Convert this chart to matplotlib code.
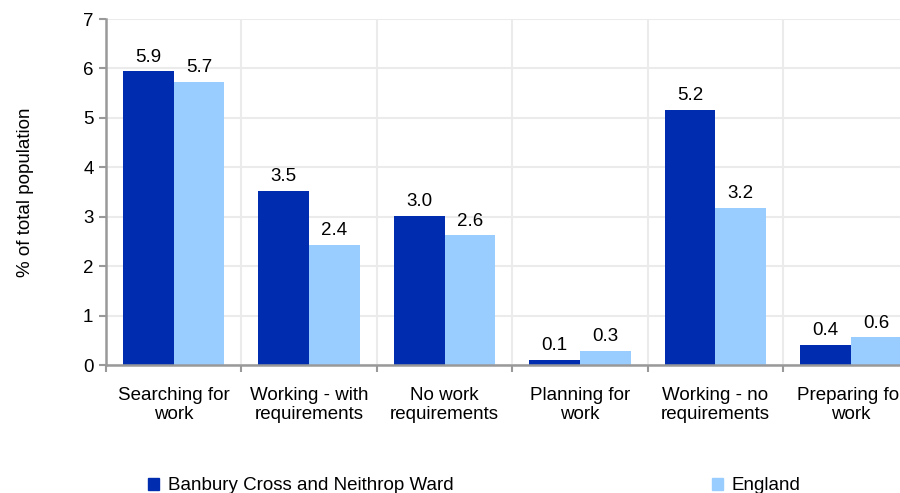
import matplotlib.pyplot as plt
from matplotlib.patches import Patch
import numpy as np

plt.rcParams["font.family"] = ["Liberation Sans", "DejaVu Sans"]

categories = ["Searching for\nwork", "Working - with\nrequirements", "No work\nrequirements",
              "Planning for\nwork", "Working - no\nrequirements", "Preparing for\nwork"]
banbury = [5.94, 3.52, 3.02, 0.11, 5.16, 0.41]
england = [5.73, 2.43, 2.62, 0.29, 3.18, 0.56]
series_names = ["Banbury Cross and Neithrop Ward", "England"]

dark = "#002db0"
light = "#99ccff"
fs = 13.5

fig = plt.figure(figsize=(9, 4.93), dpi=100)
ax = fig.add_axes([106 / 900, 128 / 493, 6 * 135.4 / 900, 346 / 493])

x = np.arange(len(categories)) + 0.5
w = 0.375
b1 = ax.bar(x - w / 2, banbury, w, color=dark, zorder=2)
b2 = ax.bar(x + w / 2, england, w, color=light, zorder=2)
ax.bar_label(b1, labels=[f"{v:.1f}" for v in banbury], padding=4, fontsize=fs)
ax.bar_label(b2, labels=[f"{v:.1f}" for v in england], padding=4, fontsize=fs)

ax.set_xlim(0, len(categories))
ax.set_ylim(0, 7)
ax.set_yticks(range(8))
ax.set_xticks(range(len(categories) + 1))
ax.set_xticklabels([])
ax.set_xticks(x, minor=True)
ax.set_xticklabels(categories, minor=True, fontsize=fs, linespacing=1.12)
ax.tick_params(axis="x", which="minor", length=0, pad=16)
ax.tick_params(axis="x", which="major", length=5, width=1.5, color="#999999")
ax.tick_params(axis="y", length=5, width=1.5, color="#999999", labelsize=fs, pad=4)

ax.grid(True, color="#ebebeb", linewidth=1.5, zorder=0)
ax.set_axisbelow(True)
for s in ["top", "right"]:
    ax.spines[s].set_visible(False)
for s in ["left", "bottom"]:
    ax.spines[s].set_color("#999999")
    ax.spines[s].set_linewidth(1.8)

ax.set_ylabel("% of total population", fontsize=fs, labelpad=35)

hx = [148 / 900, 712 / 900]
for name, col, xpos in zip(series_names, [dark, light], hx):
    fig.legend(handles=[Patch(color=col)], labels=[name], loc="center left",
               bbox_to_anchor=(xpos, 1 - 486 / 493), frameon=False, fontsize=fs,
               borderpad=0, borderaxespad=0, handlelength=0.6, handleheight=0.6,
               handletextpad=0.45)

fig.savefig("out.png", dpi=100)
